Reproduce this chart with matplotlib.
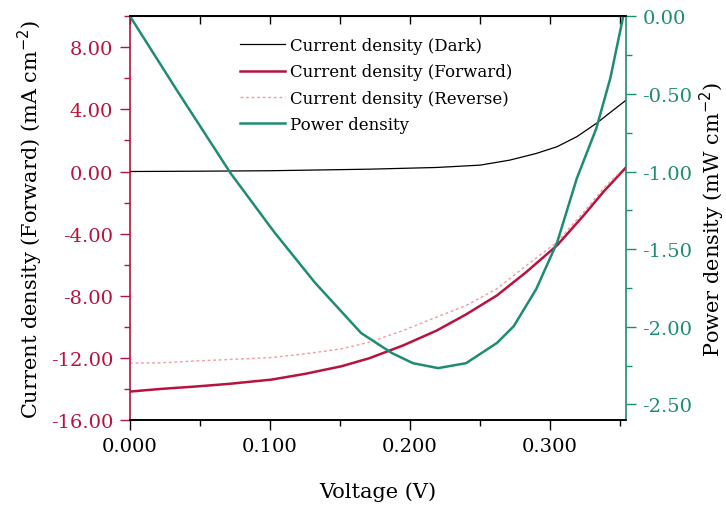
import numpy as np
import matplotlib.pyplot as plt
from matplotlib.ticker import MultipleLocator, FormatStrFormatter

plt.rcParams['font.family'] = ['DejaVu Serif']
plt.rcParams['axes.unicode_minus'] = False

# Значения
v_dark = [0.000, 0.050, 0.100, 0.171, 0.219, 0.250, 0.271, 0.290, 0.305, 0.319, 0.333, 0.345, 0.355]
j_dark = [0.00, 0.02, 0.05, 0.15, 0.26, 0.41, 0.73, 1.16, 1.60, 2.24, 3.10, 3.95, 4.65]

v_fwd = [0.000, 0.022, 0.046, 0.070, 0.101, 0.125, 0.151, 0.171, 0.195, 0.219, 0.240, 0.262,
         0.283, 0.305, 0.324, 0.338, 0.3545]
j_fwd = [-14.17, -14.00, -13.85, -13.68, -13.40, -13.03, -12.54, -12.02, -11.20, -10.24, -9.20, -7.98,
         -6.47, -4.75, -2.82, -1.31, 0.30]

v_rev = [0.000, 0.022, 0.046, 0.070, 0.101, 0.125, 0.151, 0.171, 0.195, 0.219, 0.240, 0.262,
         0.283, 0.305, 0.324, 0.338, 0.350]
j_rev = [-12.34, -12.32, -12.20, -12.11, -11.98, -11.74, -11.42, -10.99, -10.24, -9.37, -8.63, -7.55,
         -6.05, -4.54, -2.60, -1.10, -0.02]

v_pow = [0.000, 0.034, 0.072, 0.103, 0.132, 0.165, 0.187, 0.202, 0.220, 0.240, 0.262, 0.274,
         0.290, 0.305, 0.319, 0.333, 0.343, 0.352]
p_pow = [0.000, -0.484, -1.013, -1.390, -1.715, -2.040, -2.169, -2.234, -2.266, -2.234, -2.104, -1.996,
         -1.758, -1.456, -1.045, -0.721, -0.397, -0.008]

red = '#b8123f'
green = '#1e8c72'
pink = '#f49a9a'

fig, ax = plt.subplots(figsize=(7.26, 5.06), dpi=100)
fig.subplots_adjust(left=0.179, right=0.862, bottom=0.168, top=0.966)
ax2 = ax.twinx()

l1, = ax.plot(v_dark, j_dark, color='black', lw=0.9, label='Current density (Dark)')
l2, = ax.plot(v_fwd, j_fwd, color=red, lw=1.8, label='Current density (Forward)')
l3, = ax.plot(v_rev, j_rev, color=pink, lw=1.0, ls=(0, (2, 2)), label='Current density (Reverse)')
l4, = ax2.plot(v_pow, p_pow, color=green, lw=1.8, label='Power density')

ax.set_xlim(0, 0.354)
ax.set_ylim(-16, 10)
ax2.set_ylim(-2.6, 0)

ax.xaxis.set_major_locator(MultipleLocator(0.1))
ax.xaxis.set_minor_locator(MultipleLocator(0.05))
ax.xaxis.set_major_formatter(FormatStrFormatter('%.3f'))
ax.yaxis.set_major_locator(MultipleLocator(4))
ax.yaxis.set_minor_locator(MultipleLocator(2))
ax.yaxis.set_major_formatter(FormatStrFormatter('%.2f'))
ax2.yaxis.set_major_locator(MultipleLocator(0.5))
ax2.yaxis.set_minor_locator(MultipleLocator(0.25))
ax2.yaxis.set_major_formatter(FormatStrFormatter('%.2f'))

ax.tick_params(axis='x', which='major', length=7, width=1, labelsize=14, pad=5)
ax.tick_params(axis='x', which='minor', length=4, width=1)
ax.tick_params(axis='y', which='major', length=7, width=1, colors=red, labelsize=14, pad=5)
ax.tick_params(axis='y', which='minor', length=4, width=1, colors=red)
ax2.tick_params(axis='y', which='major', length=7, width=1, colors=green, labelsize=14, pad=5)
ax2.tick_params(axis='y', which='minor', length=4, width=1, colors=green)

top = ax.secondary_xaxis('top')
top.xaxis.set_major_locator(MultipleLocator(0.05))
top.tick_params(direction='in', length=6, width=1, labeltop=False)

ax.spines['left'].set_color(red)
ax.spines['right'].set_visible(False)
ax2.spines['left'].set_visible(False)
ax2.spines['right'].set_color(green)
for a in (ax, ax2):
    for s in a.spines.values():
        s.set_linewidth(1.2)

ax.set_xlabel('Voltage (V)', fontsize=15, labelpad=19)
ax.set_ylabel('Current density (Forward) (mA cm$^{-2}$)', fontsize=15, labelpad=4)
ax2.set_ylabel('Power density (mW cm$^{-2}$)', fontsize=15, labelpad=4)

ax2.legend(handles=[l1, l2, l3, l4], loc='upper left', bbox_to_anchor=(0.192, 0.985),
           frameon=False, fontsize=12, handlelength=2.7, handletextpad=0.3, labelspacing=0.55)

fig.savefig('out.png', dpi=100)
